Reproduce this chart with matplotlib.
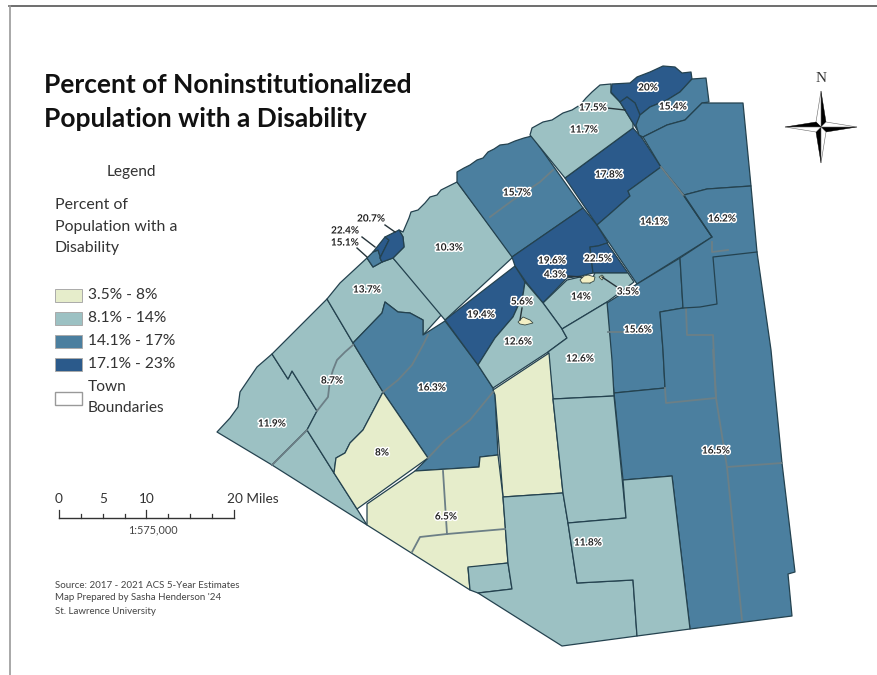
import numpy as np
import matplotlib
matplotlib.use('Agg')
import matplotlib.pyplot as plt
import matplotlib.patheffects as pe
from matplotlib.patches import Polygon, Rectangle

plt.rcParams['font.family'] = ['Lato', 'DejaVu Sans']

# ── Class breaks / legend ─────────────────────────────────────────────────────
CLASS_TOPS   = [8.0, 14.0, 17.0, 23.0]
CLASS_COLORS = ['#e6edcb', '#9cc1c3', '#4b7f9f', '#2b5a8b']
CLASS_LABELS = ['3.5% - 8%', '8.1% - 14%', '14.1% - 17%', '17.1% - 23%']

r_119 = [(217,432),(230,418),(238,407),(240,392),(257,367),(272,354),(288,379),(292,371),(317,411),(307,430),(272,465)]
r_sw  = [(307,430),(334,473),(357,509),(367,525),(272,465)]
r_87  = [(272,354),(327,299),(353,343),(383,392),(363,430),(350,443),(345,453),(336,458),(334,473),(307,430),(317,411),(292,371),(288,379)]
r_137 = [(327,299),(340,283),(367,258),(373,267),(382,262),(393,258),(443,313),(423,335),(423,320),(410,313),(398,312),(385,302),(382,313),(353,343)]
r_163 = [(353,343),(382,313),(385,302),(398,312),(410,313),(423,320),(423,335),(445,321),(478,365),(493,388),(495,395),(498,455),(480,457),(479,467),(415,471),(428,458),(383,392)]
r_194 = [(445,320),(515,266),(525,282),(523,295),(513,317),(495,338),(478,365)]
r_103 = [(393,258),(404,247),(403,237),(399,230),(403,232),(409,218),(411,212),(418,210),(425,203),(430,197),(437,195),(441,190),(449,186),(457,182),(513,257),(445,320)]
r_157 = [(457,172),(464,168),(470,165),(477,160),(483,158),(488,152),(494,149),(500,145),(508,144),(515,141),(524,138),(532,136),(583,208),(512,257),(457,182)]
r_196 = [(512,257),(583,208),(597,225),(608,243),(598,246),(590,247),(593,273),(581,276),(567,278),(543,303),(526,282),(515,266)]
r_225 = [(590,247),(598,246),(607,243),(628,273),(603,273),(593,273)]
r_178 = [(633,128),(642,138),(661,167),(628,191),(630,196),(612,212),(597,225),(565,178)]
r_117 = [(530,135),(532,128),(543,122),(552,120),(563,113),(572,110),(580,105),(586,98),(592,92),(600,85),(611,84),(611,93),(620,102),(633,123),(633,128),(565,178)]
r_20  = [(611,92),(612,84),(630,83),(637,77),(650,72),(663,66),(675,67),(682,73),(691,72),(692,79),(680,92),(667,100),(650,107),(640,115),(635,103),(627,97),(620,102)]
r_sl  = [(620,102),(627,97),(635,103),(640,115),(637,127),(642,138),(633,123)]
r_154 = [(640,115),(650,107),(667,100),(680,92),(692,79),(706,78),(709,102),(702,103),(685,120),(667,125),(643,137),(639,135),(636,125)]
r_162 = [(643,137),(667,125),(685,120),(702,103),(743,103),(751,186),(707,189),(684,195),(661,167)]
r_141 = [(597,225),(612,212),(630,196),(628,191),(661,167),(684,196),(712,237),(637,284)]
r_156 = [(637,284),(680,258),(683,308),(660,312),(663,350),(665,388),(614,393),(610,350),(607,303)]
r_165 = [(684,195),(707,189),(751,186),(757,252),(771,350),(782,463),(795,572),(788,574),(792,616),(690,629),(672,476),(623,480),(614,393),(665,388),(663,350),(660,312),(683,308),(680,258),(712,237)]
r_14  = [(543,303),(567,280),(580,277),(590,283),(595,273),(613,273),(628,273),(634,282),(607,302),(562,329)]
r_126 = [(525,282),(543,303),(562,329),(567,338),(548,352),(493,388),(478,365),(495,338),(513,317),(523,295)]
r_126b = [(548,352),(567,338),(562,329),(607,302),(612,360),(614,396),(553,399)]
r_pale = [(493,390),(549,353),(553,399),(563,493),(503,497),(495,395)]
r_8   = [(383,392),(363,430),(350,443),(345,453),(336,458),(334,473),(357,509),(428,458)]
r_65  = [(367,504),(415,471),(479,467),(480,457),(498,455),(503,497),(508,563),(468,568),(470,590),(367,525)]
r_sq  = [(468,567),(508,563),(512,589),(478,593),(470,590)]
r_118 = [(503,497),(563,493),(568,523),(577,583),(633,580),(637,636),(562,646),(478,593),(512,589),(508,563)]
r_118b = [(553,399),(614,396),(626,518),(568,523),(563,493)]
r_118c = [(568,523),(626,518),(623,480),(672,476),(690,629),(637,636),(633,580),(577,583)]
r_151 = [(367,258),(373,252),(378,250),(382,262),(373,267)]
r_224 = [(373,252),(385,237),(389,240),(380,258),(382,262),(378,250)]
r_207 = [(385,237),(399,230),(403,237),(404,247),(393,258),(382,262),(380,258),(389,240)]

region_polys = [r_119, r_sw, r_87, r_137, r_163, r_194, r_103, r_157, r_196, r_225, r_178, r_117, r_20, r_sl,
                r_154, r_162, r_141, r_156, r_165, r_14, r_126, r_126b, r_pale, r_8, r_65, r_sq, r_118, r_118b,
                r_118c, r_151, r_224, r_207]
region_vals  = [11.9, 11.9, 8.7, 13.7, 16.3, 19.4, 10.3, 15.7, 19.6, 22.5, 17.8, 11.7, 20.0, 17.5,
                15.4, 16.5, 14.1, 15.6, 16.5, 14.0, 12.6, 12.6, 6.5, 8.0, 6.5, 11.8, 11.8, 11.8,
                11.8, 15.1, 22.4, 20.7]

# town boundaries inside the regions (gray)
town_lines = [
    [(353,345),(345,352),(337,360),(333,370),(330,380),(328,397),(317,411)],
    [(272,465),(307,430)],
    [(383,392),(398,380),(412,365),(423,345),(428,335)],
    [(428,458),(445,440),(470,420),(493,392)],
    [(553,170),(540,182),(513,200),(490,217)],
    [(443,471),(447,534)],
    [(412,552),(420,537),(447,534),(505,529)],
    [(661,167),(684,196)],
    [(686,308),(687,335),(713,335),(716,398),(666,403),(665,388)],
    [(713,350),(716,398),(727,467),(742,620)],
    [(727,467),(782,463)],
    [(712,242),(712,252),(728,250)],
    [(608,332),(623,332)],
]
# county lines inside the blue block (dark)
county_lines = [
    [(757,252),(713,257),(717,304),(700,307),(683,308)],
    [(684,196),(712,237)],
]

isl_43 = [(580,280),(584,276),(588,275),(595,277),(594,281),(590,283),(582,283)]
isl_35 = [(599,277),(602,275),(604,277),(602,280)]
isl_56 = [(518,322),(523,317),(530,320),(533,323),(525,325),(520,324)]
islands = [isl_43, isl_35, isl_56]

# ── Labels ────────────────────────────────────────────────────────────────────
label_text = ['20%','15.4%','17.5%','11.7%','15.7%','17.8%','14.1%','16.2%','19.6%','22.5%','4.3%','14%','3.5%',
              '5.6%','12.6%','19.4%','12.6%','15.6%','16.3%','16.5%','8.7%','11.9%','8%','6.5%','11.8%','13.7%',
              '10.3%','20.7%','22.4%','15.1%']
label_x = [648,673,593,584,517,609,654,722,552,598,555,581,628,522,518,481,580,638,432,716,332,272,382,446,588,367,449,371,345,345]
label_y = [88,107,108,130,193,175,222,219,261,259,275,297,292,302,342,315,359,330,388,451,381,424,453,517,543,290,248,219,231,243]

leaders = [[(385,225),(395,232)], [(362,237),(375,247)], [(357,248),(367,257)], [(607,108),(625,110)],
           [(567,276),(582,277)], [(602,277),(617,287)], [(522,308),(520,320)]]

scale_miles  = [0, 5, 10, 20]
scale_labels = ['0', '5', '10', '20 Miles']
source_lines = ['Source: 2017 - 2021 ACS 5-Year Estimates', "Map Prepared by Sasha Henderson '24", 'St. Lawrence University']

# ── Figure, one axis in image pixels ──────────────────────────────────────────
fig = plt.figure(figsize=(8.78, 6.75), dpi=100)
ax = fig.add_axes([0, 0, 1, 1])
ax.set_xlim(0, 878); ax.set_ylim(675, 0)
ax.axis('off')

ax.plot([9, 878], [6, 6], color='#555555', lw=1.2)
ax.plot([10, 10], [6, 675], color='#999999', lw=1.2)

def class_color(v):
    return CLASS_COLORS[np.searchsorted(CLASS_TOPS, v)]

for poly, v in zip(region_polys, region_vals):
    ax.add_patch(Polygon(poly, closed=True, fc=class_color(v), ec='#24424f', lw=0.9, joinstyle='round'))
for ln in town_lines:
    xs, ys = zip(*ln)
    ax.plot(xs, ys, color='#6c7f86', lw=1.3)
for ln in county_lines:
    xs, ys = zip(*ln)
    ax.plot(xs, ys, color='#24424f', lw=0.9)
for isl in islands:
    ax.add_patch(Polygon(isl, closed=True, fc='#f3efc4', ec='#3a4a44', lw=0.6))

for ln in leaders:
    xs, ys = zip(*ln)
    ax.plot(xs, ys, color='#26343a', lw=1.0)

halo = [pe.withStroke(linewidth=2.2, foreground='white')]
for t, x, y in zip(label_text, label_x, label_y):
    ax.text(x, y, t, fontsize=7.2, fontweight='bold', color='#222222', ha='center', va='center', path_effects=halo)

# ── Title / legend ────────────────────────────────────────────────────────────
ax.text(44, 85, 'Percent of Noninstitutionalized', fontsize=19, fontweight='bold', color='#111111', va='center')
ax.text(44, 119, 'Population with a Disability', fontsize=19, fontweight='bold', color='#111111', va='center')

ax.text(131, 172, 'Legend', fontsize=11.2, color='#333333', ha='center', va='center')
for y, t in zip([205, 227, 248], ['Percent of', 'Population with a', 'Disability']):
    ax.text(55, y, t, fontsize=11.4, color='#333333', va='center')

for y, c, t in zip([295, 318, 341, 364], CLASS_COLORS, CLASS_LABELS):
    ax.add_patch(Rectangle((55, y - 6.5), 27, 13, fc=c, ec='#aaaaaa', lw=0.7))
    ax.text(88, y, t, fontsize=11.2, color='#333333', va='center')
ax.add_patch(Rectangle((55, 392), 27, 13, fc='white', ec='#999999', lw=1))
ax.text(88, 387, 'Town', fontsize=11.2, color='#333333', va='center')
ax.text(88, 408, 'Boundaries', fontsize=11.2, color='#333333', va='center')

# ── Scale bar ─────────────────────────────────────────────────────────────────
px_per_mile = 8.75
x0 = 59
ax.plot([x0, x0 + 20 * px_per_mile], [518, 518], color='#333333', lw=1)
for m in np.arange(0, 20.1, 2.5):
    top = 510 if m % 10 == 0 else 514
    ax.plot([x0 + m * px_per_mile] * 2, [top, 518], color='#333333', lw=0.9)
for m, t in zip(scale_miles, scale_labels):
    if m == 20:
        ax.text(x0 + m * px_per_mile - 7, 499, t, fontsize=9.8, color='#333333', va='center')
    else:
        ax.text(x0 + m * px_per_mile, 499, t, fontsize=9.8, color='#333333', ha='center', va='center')
ax.text(153, 530, '1:575,000', fontsize=7.8, color='#444444', ha='center', va='center')

for y, t in zip([585, 598, 612], source_lines):
    ax.text(55, y, t, fontsize=7.05, color='#444444', va='center')

# ── North arrow ───────────────────────────────────────────────────────────────
cx, cy = 821, 127
arm, w = 36, 5
dirs = [(0, -1), (1, 0), (0, 1), (-1, 0)]
for dx, dy in dirs:
    tip = (cx + dx * arm, cy + dy * arm)
    px, py = -dy, dx  # clockwise side
    ax.add_patch(Polygon([(cx, cy), tip, (cx + dx * w + px * w, cy + dy * w + py * w)], fc='black', ec='black', lw=0.3))
    ax.add_patch(Polygon([(cx, cy), tip, (cx + dx * w - px * w, cy + dy * w - py * w)], fc='white', ec='#666666', lw=0.4))
ax.text(cx, 79, 'N', fontsize=11, family='Liberation Serif', color='#333333', ha='center', va='center')

fig.savefig('out.png', dpi=100)
